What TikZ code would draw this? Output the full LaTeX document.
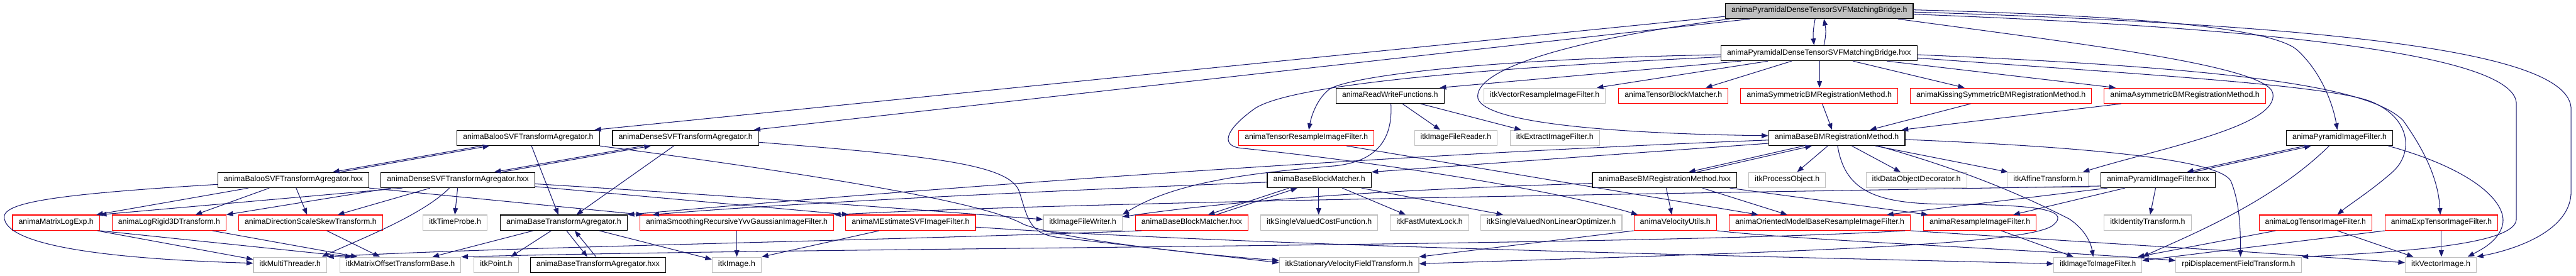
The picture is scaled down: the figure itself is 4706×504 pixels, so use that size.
\documentclass[tikz,border=0pt]{standalone}
\usepackage{fontspec}
\setmainfont{Liberation Sans}
\usepackage{graphicx}
\usetikzlibrary{arrows.meta}
\definecolor{edgec}{HTML}{191970}
\definecolor{gbord}{HTML}{BFBFBF}
\definecolor{rbord}{HTML}{FF0000}
\definecolor{rootfill}{HTML}{BFBFBF}
\tikzset{
  box/.style={line width=1.3pt, inner sep=0pt, minimum height=28pt, font=\fontsize{14}{14}\selectfont},
  bxblack/.style={box, draw=black},
  bxred/.style={box, draw=rbord},
  bxgray/.style={box, draw=gbord},
  bxroot/.style={box, draw=black, fill=rootfill},
  edg/.style={draw=edgec, line width=1.2pt, -{Triangle[length=12pt,width=9pt]}},
}
\newcommand\nd[6]{%
  \pgfmathsetmacro\ndw{#4-#3}%
  \pgfmathsetmacro\ndx{(#3+#4)/2}%
  \pgfmathsetmacro\ndt{#4-#3-22}%
  \node[#2, minimum width=\ndw pt] (#1) at (\ndx,#5) {\resizebox{\ndt pt}{\height}{\strut #6}};%
}
\begin{document}
\begin{tikzpicture}[x=1pt,y=-1pt]
\fill[white] (0,0) rectangle (4706,504);
\useasboundingbox (0,0) rectangle (4706,504);
% row 0-1
\nd{n0}{bxroot}{3152}{3495}{20}{animaPyramidalDenseTensorSVFMatchingBridge.h}
\nd{n1}{bxblack}{3144}{3502}{97}{animaPyramidalDenseTensorSVFMatchingBridge.hxx}
% row 2
\nd{rw}{bxblack}{2441}{2638}{175}{animaReadWriteFunctions.h}
\nd{vrs}{bxgray}{2711}{2933}{175}{itkVectorResampleImageFilter.h}
\nd{tbm}{bxred}{2957}{3157}{175}{animaTensorBlockMatcher.h}
\nd{sym}{bxred}{3180}{3467}{175}{animaSymmetricBMRegistrationMethod.h}
\nd{kis}{bxred}{3490}{3821}{175}{animaKissingSymmetricBMRegistrationMethod.h}
\nd{asy}{bxred}{3844}{4139}{175}{animaAsymmetricBMRegistrationMethod.h}
% row 3
\nd{bah}{bxblack}{835}{1095}{252}{animaBalooSVFTransformAgregator.h}
\nd{deh}{bxblack}{1119}{1386}{252}{animaDenseSVFTransformAgregator.h}
\nd{trs}{bxred}{2263}{2510}{252}{animaTensorResampleImageFilter.h}
\nd{ifr}{bxgray}{2584}{2735}{252}{itkImageFileReader.h}
\nd{eif}{bxgray}{2759}{2922}{252}{itkExtractImageFilter.h}
\nd{bmr}{bxblack}{3231}{3480}{252}{animaBaseBMRegistrationMethod.h}
\nd{pyr}{bxblack}{4177}{4371}{252}{animaPyramidImageFilter.h}
% row 4
\nd{bax}{bxblack}{398}{674}{329}{animaBalooSVFTransformAgregator.hxx}
\nd{dex}{bxblack}{696}{977}{329}{animaDenseSVFTransformAgregator.hxx}
\nd{bbm}{bxblack}{2315}{2505}{329}{animaBaseBlockMatcher.h}
\nd{bmx}{bxblack}{2909}{3173}{329}{animaBaseBMRegistrationMethod.hxx}
\nd{ipo}{bxgray}{3195}{3335}{329}{itkProcessObject.h}
\nd{dod}{bxgray}{3409}{3593}{329}{itkDataObjectDecorator.h}
\nd{aff}{bxgray}{3667}{3815}{329}{itkAffineTransform.h}
\nd{pyx}{bxblack}{3838}{4047}{329}{animaPyramidImageFilter.hxx}
% row 5
\nd{mle}{bxred}{23}{182}{407}{animaMatrixLogExp.h}
\nd{lr3}{bxred}{205}{413}{407}{animaLogRigid3DTransform.h}
\nd{dss}{bxred}{436}{699}{407}{animaDirectionScaleSkewTransform.h}
\nd{itp}{bxgray}{773}{890}{407}{itkTimeProbe.h}
\nd{bta}{bxblack}{914}{1146}{407}{animaBaseTransformAgregator.h}
\nd{smo}{bxred}{1169}{1523}{407}{animaSmoothingRecursiveYvvGaussianImageFilter.h}
\nd{mes}{bxred}{1545}{1782}{407}{animaMEstimateSVFImageFilter.h}
\nd{ifw}{bxgray}{1906}{2050}{407}{itkImageFileWriter.h}
\nd{bbx}{bxred}{2074}{2280}{407}{animaBaseBlockMatcher.hxx}
\nd{svc}{bxgray}{2303}{2517}{407}{itkSingleValuedCostFunction.h}
\nd{fml}{bxgray}{2540}{2683}{407}{itkFastMutexLock.h}
\nd{svo}{bxgray}{2705}{2963}{407}{itkSingleValuedNonLinearOptimizer.h}
\nd{vut}{bxred}{2985}{3136}{407}{animaVelocityUtils.h}
\nd{omr}{bxred}{3159}{3490}{407}{animaOrientedModelBaseResampleImageFilter.h}
\nd{res}{bxred}{3514}{3720}{407}{animaResampleImageFilter.h}
\nd{idt}{bxgray}{3844}{4003}{407}{itkIdentityTransform.h}
\nd{ltf}{bxred}{4127}{4333}{407}{animaLogTensorImageFilter.h}
\nd{etf}{bxred}{4357}{4563}{407}{animaExpTensorImageFilter.h}
% row 6
\nd{mth}{bxgray}{463}{597}{484}{itkMultiThreader.h}
\nd{mot}{bxgray}{621}{842}{484}{itkMatrixOffsetTransformBase.h}
\nd{ipt}{bxgray}{866}{947}{484}{itkPoint.h}
\nd{btx}{bxblack}{969}{1216}{484}{animaBaseTransformAgregator.hxx}
\nd{img}{bxgray}{1301}{1391}{484}{itkImage.h}
\nd{svf}{bxgray}{2337}{2592}{484}{itkStationaryVelocityFieldTransform.h}
\nd{i2i}{bxgray}{3752}{3913}{484}{itkImageToImageFilter.h}
\nd{rpi}{bxgray}{3975}{4204}{484}{rpiDisplacementFieldTransform.h}
\nd{vim}{bxgray}{4394}{4524}{484}{itkVectorImage.h}

% ---- edges from root
\draw[edg] (n0.south -| 3316,0) .. controls (3312,55) and (3312,65) .. (n1.north -| 3314,0);
\draw[edg] (n1.north -| 3332,0) .. controls (3336,65) and (3336,55) .. (n0.south -| 3332,0);
\draw[edg] (n0.west |- 0,30) -- (bah.north -| 1086,0);
\draw[edg] (n0.south -| 3160,0) .. controls (2850,75) and (2690,130) .. (2700,180) .. controls (2715,230) and (3000,245) .. (bmr.west |- 0,248);
\draw[edg] (n0.south -| 3197,0) -- (deh.north -| 1377,0);
\draw[edg] (n0.east |- 0,18) .. controls (3950,30) and (4150,55) .. (4195,90) .. controls (4240,130) and (4262,190) .. (pyr.north -| 4270,0);
\draw[edg] (n0.east |- 0,22) .. controls (4400,50) and (4697,110) .. (4697,200) -- (4697,350) .. controls (4697,420) and (4600,455) .. (vim.north east);
\draw[edg] (n0.east |- 0,26) .. controls (4250,55) and (4597,110) .. (4597,190) -- (4597,400) .. controls (4597,440) and (4450,458) .. (rpi.north east);
\draw[edg] (n0.south -| 3467,0) .. controls (3800,80) and (4140,120) .. (4152,170) .. controls (4165,230) and (3950,270) .. (aff.north -| 3805,0);
% ---- edges from hxx
\draw[edg] (n1.south -| 3181,0) -- (rw.north -| 2630,0);
\draw[edg] (n1.south -| 3230,0) -- (vrs.north -| 2917,0);
\draw[edg] (n1.south -| 3273,0) -- (tbm.north -| 3116,0);
\draw[edg] (n1.south -| 3324,0) -- (sym.north -| 3324,0);
\draw[edg] (n1.south -| 3385,0) -- (kis.north -| 3589,0);
\draw[edg] (n1.south -| 3447,0) -- (asy.north -| 3865,0);
\draw[edg] (n1.west |- 0,100) .. controls (2700,108) and (2470,140) .. (2430,162) .. controls (2405,180) and (2395,215) .. (trs.north -| 2391,0);
\draw[edg] (n1.west |- 0,104) .. controls (2700,125) and (2350,155) .. (2290,200) .. controls (2235,240) and (2230,268) .. (2270,271) .. controls (2550,300) and (2850,350) .. (vut.north -| 2992,0);
\draw[edg] (n1.east |- 0,100) .. controls (4100,125) and (4330,160) .. (4390,220) .. controls (4440,290) and (4455,340) .. (etf.north -| 4458,0);
\draw[edg] (n1.east |- 0,106) .. controls (3900,135) and (4250,155) .. (4330,185) .. controls (4405,215) and (4410,280) .. (4370,315) .. controls (4330,350) and (4290,375) .. (ltf.north -| 4270,0);
% ---- row 2
\draw[edg] (sym.south -| 3329,0) -- (bmr.north -| 3347,0);
\draw[edg] (kis.south -| 3600,0) -- (bmr.north -| 3416,0);
\draw[edg] (asy.south -| 3875,0) -- (bmr.north -| 3474,0);
\draw[edg] (rw.south -| 2562,0) -- (ifr.north -| 2631,0);
\draw[edg] (rw.south -| 2595,0) -- (eif.north -| 2779,0);
\draw[edg] (rw.south -| 2541,0) .. controls (2545,260) and (2510,295) .. (2440,303) .. controls (2300,315) and (2150,330) .. (ifw.north east);
% ---- row 3
\draw[edg] (bah.south -| 880,0) -- (bax.north -| 608,0);
\draw[edg] (bax.north -| 622,0) -- (bah.south -| 894,0);
\draw[edg] (deh.south -| 1175,0) -- (dex.north -| 903,0);
\draw[edg] (dex.north -| 917,0) -- (deh.south -| 1189,0);
\draw[edg] (bah.south -| 971,0) -- (bta.north -| 1020,0);
\draw[edg] (deh.south -| 1231,0) -- (bta.north -| 1053,0);
\draw[edg] (bah.south east) .. controls (1500,320) and (1800,370) .. (1870,410) .. controls (1950,440) and (2200,466) .. (svf.west |- 0,476);
\draw[edg] (deh.east |- 0,260) .. controls (1700,285) and (1845,300) .. (1862,350) .. controls (1878,400) and (1880,428) .. (1935,434) -- (svf.west |- 0,480);
\draw[edg] (trs.south -| 2460,0) -- (omr.north -| 3212,0);
\draw[edg] (bmr.south -| 3295,0) -- (bmx.north -| 3085,0);
\draw[edg] (bmx.north -| 3100,0) -- (bmr.south -| 3310,0);
\draw[edg] (bmr.south -| 3339,0) -- (ipo.north -| 3283,0);
\draw[edg] (bmr.south -| 3383,0) -- (dod.north -| 3472,0);
\draw[edg] (bmr.south -| 3426,0) -- (aff.north -| 3668,0);
\draw[edg] (bmr.south -| 3431,0) .. controls (3620,320) and (3720,370) .. (3780,400) .. controls (3810,420) and (3820,445) .. (i2i.north -| 3824,0);
\draw[edg] (bmr.south -| 3357,0) .. controls (3370,345) and (3420,372) .. (3550,373) .. controls (3700,374) and (3790,380) .. (3750,412) .. controls (3700,450) and (3200,462) .. (svf.east |- 0,482);
\draw[edg] (bmr.east |- 0,255) .. controls (3800,268) and (4050,290) .. (4075,330) .. controls (4092,370) and (4093,420) .. (rpi.north -| 4093,0);
\draw[edg] (bmr.west |- 0,262) -- (bbm.north east);
\draw[edg] (bmr.west |- 0,256) .. controls (2600,280) and (1800,335) .. (bta.north east);
\draw[edg] (pyr.south -| 4210,0) -- (pyx.north -| 3995,0);
\draw[edg] (pyx.north -| 4007,0) -- (pyr.south -| 4222,0);
\draw[edg] (pyr.south -| 4255,0) .. controls (4150,370) and (4000,430) .. (i2i.north east);
\draw[edg] (pyr.south -| 4363,0) .. controls (4520,310) and (4580,370) .. (4572,410) .. controls (4565,440) and (4535,455) .. (vim.north -| 4508,0);
% ---- row 4
\draw[edg] (bax.south -| 454,0) -- (mle.north -| 176,0);
\draw[edg] (bax.south -| 492,0) -- (lr3.north -| 357,0);
\draw[edg] (bax.south -| 541,0) -- (dss.north -| 561,0);
\draw[edg] (bax.west |- 0,337) .. controls (100,355) and (0,370) .. (8,400) .. controls (20,462) and (300,476) .. (mth.west |- 0,481);
\draw[edg] (bax.south east) -- (smo.north -| 1174,0);
\draw[edg] (dex.south -| 735,0) -- (mle.north east);
\draw[edg] (dex.south -| 714,0) -- (lr3.north east);
\draw[edg] (dex.south -| 786,0) -- (dss.north -| 617,0);
\draw[edg] (dex.south -| 821,0) .. controls (770,395) and (650,440) .. (mth.north -| 588,0);
\draw[edg] (dex.south -| 836,0) -- (itp.north -| 831,0);
\draw[edg] (dex.east |- 0,341) -- (mes.north -| 1550,0);
\draw[edg] (dex.east |- 0,336) .. controls (1400,362) and (1700,385) .. (ifw.west |- 0,401);
\draw[edg] (bbm.south -| 2355,0) -- (bbx.north -| 2207,0);
\draw[edg] (bbx.north -| 2222,0) -- (bbm.south -| 2370,0);
\draw[edg] (bbm.south -| 2409,0) -- (svc.north -| 2409,0);
\draw[edg] (bbm.south -| 2452,0) -- (fml.north -| 2568,0);
\draw[edg] (bbm.south -| 2487,0) -- (svo.north -| 2746,0);
\draw[edg] (bbm.west |- 0,333) .. controls (2000,345) and (1450,370) .. (smo.north -| 1192,0);
\draw[edg] (bmx.south -| 3044,0) -- (vut.north -| 3054,0);
\draw[edg] (bmx.south -| 3110,0) -- (omr.north -| 3265,0);
\draw[edg] (bmx.south -| 3160,0) -- (res.north -| 3522,0);
\draw[edg] (bmx.west |- 0,335) .. controls (2600,345) and (2300,360) .. (ifw.east |- 0,396);
\draw[edg] (pyx.west |- 0,340) .. controls (3000,355) and (2000,368) .. (smo.north east);
\draw[edg] (pyx.south -| 3882,0) -- (res.north -| 3678,0);
\draw[edg] (pyx.south -| 3938,0) -- (idt.north -| 3928,0);
\draw[edg] (pyx.south -| 3850,0) -- (omr.north -| 3447,0);
% ---- row 5
\draw[edg] (mle.south -| 178,0) -- (mth.west |- 0,474);
\draw[edg] (mle.south east) -- (mot.north -| 643,0);
\draw[edg] (lr3.south -| 388,0) -- (mot.north -| 653,0);
\draw[edg] (dss.south -| 597,0) -- (mot.north -| 694,0);
\draw[edg] (bta.south -| 974,0) -- (mot.north -| 790,0);
\draw[edg] (bta.south -| 1007,0) -- (ipt.north -| 933,0);
\draw[edg] (bta.south -| 1035,0) -- (btx.north -| 1073,0);
\draw[edg] (btx.north -| 1089,0) -- (bta.south -| 1050,0);
\draw[edg] (bta.south -| 1095,0) -- (img.west |- 0,474);
\draw[edg] (smo.south -| 1346,0) -- (img.north -| 1346,0);
\draw[edg] (mes.south -| 1606,0) -- (img.north east);
\draw[edg] (mes.east |- 0,415) .. controls (2300,450) and (3200,468) .. (i2i.west |- 0,482);
\draw[edg] (bbx.south -| 2085,0) .. controls (1600,440) and (900,452) .. (mth.north east);
\draw[edg] (omr.south -| 3480,0) .. controls (3000,450) and (1500,452) .. (mot.north east);
\draw[edg] (vut.south west) -- (svf.north east);
\draw[edg] (vut.south east) .. controls (3300,440) and (3700,455) .. (rpi.west |- 0,476);
\draw[edg] (omr.south east) .. controls (3700,435) and (3900,448) .. (4100,460) -- (vim.west |- 0,480);
\draw[edg] (res.south -| 3656,0) -- (i2i.north -| 3788,0);
\draw[edg] (ltf.south -| 4157,0) -- (i2i.north -| 3905,0);
\draw[edg] (etf.south west) -- (i2i.east |- 0,476);
\draw[edg] (ltf.south -| 4270,0) -- (vim.north -| 4409,0);
\draw[edg] (etf.south -| 4460,0) -- (vim.north -| 4460,0);
\end{tikzpicture}
\end{document}
